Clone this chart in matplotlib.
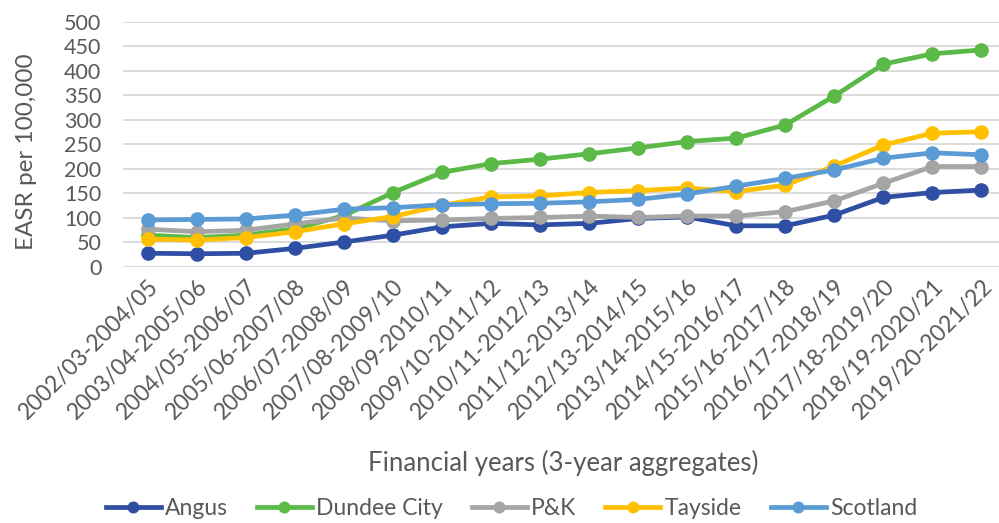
import numpy as np
import matplotlib
matplotlib.use("Agg")
import matplotlib.pyplot as plt

# 3-year aggregate periods
periods = ['2002/03-2004/05', '2003/04-2005/06', '2004/05-2006/07', '2005/06-2007/08',
           '2006/07-2008/09', '2007/08-2009/10', '2008/09-2010/11', '2009/10-2011/12',
           '2010/11-2012/13', '2011/12-2013/14', '2012/13-2014/15', '2013/14-2015/16',
           '2014/15-2016/17', '2015/16-2017/18', '2016/17-2018/19', '2017/18-2019/20',
           '2018/19-2020/21', '2019/20-2021/22']

angus = [28, 27, 28, 38, 51, 65, 82, 89, 86, 89, 99, 102, 84, 84, 106, 142, 152, 157]
dundee = [65, 60, 65, 78, 105, 152, 193, 211, 220, 231, 243, 256, 263, 290, 349, 414, 435, 443]
pk = [77, 72, 75, 88, 100, 94, 96, 99, 101, 104, 101, 104, 104, 113, 135, 171, 205, 205]
tayside = [57, 55, 60, 72, 88, 103, 126, 143, 145, 152, 156, 161, 154, 167, 206, 249, 273, 276]
scotland = [96, 97, 98, 106, 118, 121, 127, 129, 130, 133, 138, 149, 165, 181, 198, 222, 233, 229]

series = [('Angus', angus, '#2E4FA3'),
          ('Dundee City', dundee, '#5AB947'),
          ('P&K', pk, '#A5A5A5'),
          ('Tayside', tayside, '#FFC000'),
          ('Scotland', scotland, '#5B9BD5')]

txtcol = '#595959'
plt.rcParams['font.family'] = ['Lato', 'DejaVu Sans']

fig = plt.figure(figsize=(9.99, 5.23), dpi=100)
ax = fig.add_axes([0.1236, 0.4895, 0.8834, 0.4685])

x = np.arange(len(periods))
for name, vals, col in series:
    ax.plot(x, vals, '-o', color=col, lw=3.4, ms=9.5, label=name)

ax.set_xlim(-0.5, len(periods) - 0.5)
ax.set_ylim(0, 500)
ax.set_yticks(np.arange(0, 501, 50))
ax.set_xticks(x)
ax.set_xticklabels(periods, rotation=45, ha='right', rotation_mode='anchor')
ax.tick_params(axis='both', length=0, colors=txtcol)
ax.tick_params(axis='y', labelsize=15.5, pad=16)
ax.tick_params(axis='x', labelsize=16.5, pad=6)
ax.grid(axis='y', color='#D9D9D9', lw=1.3)
ax.set_axisbelow(True)
for s in ax.spines.values():
    s.set_visible(False)

fig.text(0.027, 0.71, 'EASR per 100,000', fontsize=17.5, color=txtcol,
         rotation=90, ha='center', va='center')
fig.text(0.564, 0.115, 'Financial years (3-year aggregates)', fontsize=18.5,
         color=txtcol, ha='center', va='center')

leg = fig.legend(loc='center', bbox_to_anchor=(0.512, 0.028), ncol=5, frameon=False,
                 fontsize=16.5, handlelength=2.4, columnspacing=1.25, handletextpad=0.2,
                 markerscale=0.8, labelcolor=txtcol)

fig.savefig('out.png', dpi=100)
